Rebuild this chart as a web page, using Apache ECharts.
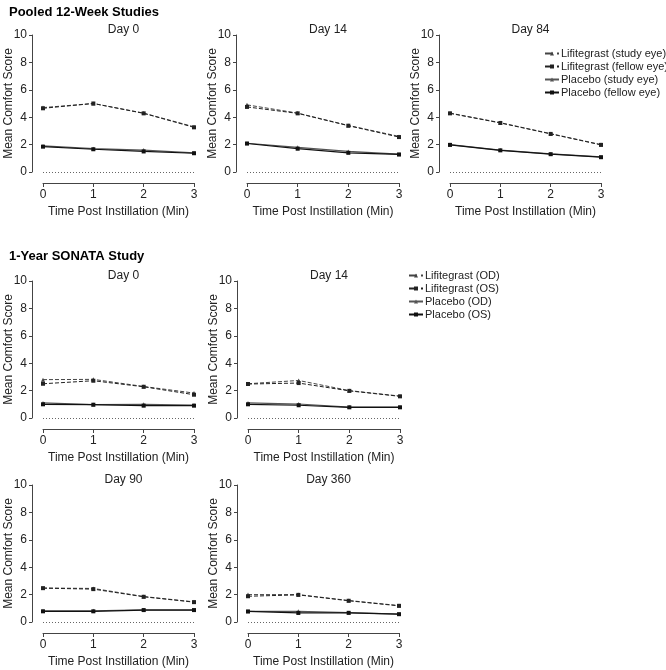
<!DOCTYPE html>
<html>
<head>
<meta charset="utf-8">
<script src="https://cdn.jsdelivr.net/npm/echarts@6/dist/echarts.min.js"></script>
<style>html,body{margin:0;padding:0;background:#fff;}#c{width:666px;height:670px;}</style>
</head>
<body>
<div id="c"></div>
<script>
// ---- Data ----
const timePoints = [0, 1, 2, 3];
const yMin = 0, yMax = 10, yStep = 2;

const pooledNames = ['Lifitegrast (study eye)', 'Lifitegrast (fellow eye)', 'Placebo (study eye)', 'Placebo (fellow eye)'];
const sonataNames = ['Lifitegrast (OD)', 'Lifitegrast (OS)', 'Placebo (OD)', 'Placebo (OS)'];

// Pooled 12-Week Studies
const pooledDay0_lifStudy   = [4.7, 5.0, 4.3, 3.3];
const pooledDay0_lifFellow  = [4.65, 5.0, 4.28, 3.26];
const pooledDay0_pboStudy   = [1.9, 1.7, 1.6, 1.4];
const pooledDay0_pboFellow  = [1.85, 1.66, 1.5, 1.37];

const pooledDay14_lifStudy  = [4.9, 4.3, 3.4, 2.6];
const pooledDay14_lifFellow = [4.75, 4.28, 3.38, 2.55];
const pooledDay14_pboStudy  = [2.1, 1.8, 1.5, 1.3];
const pooledDay14_pboFellow = [2.08, 1.7, 1.4, 1.28];

const pooledDay84_lifStudy  = [4.3, 3.6, 2.8, 2.0];
const pooledDay84_lifFellow = [4.28, 3.58, 2.78, 1.98];
const pooledDay84_pboStudy  = [2.0, 1.6, 1.32, 1.1];
const pooledDay84_pboFellow = [1.98, 1.58, 1.3, 1.08];

// 1-Year SONATA Study
const sonataDay0_lifOD  = [2.8, 2.82, 2.3, 1.82];
const sonataDay0_lifOS  = [2.5, 2.72, 2.28, 1.7];
const sonataDay0_pboOD  = [1.1, 0.98, 1.0, 0.95];
const sonataDay0_pboOS  = [1.0, 0.97, 0.9, 0.9];

const sonataDay14_lifOD = [2.5, 2.74, 2.0, 1.6];
const sonataDay14_lifOS = [2.48, 2.55, 1.98, 1.58];
const sonataDay14_pboOD = [1.1, 1.02, 0.8, 0.8];
const sonataDay14_pboOS = [1.0, 0.93, 0.78, 0.78];

const sonataDay90_lifOD = [2.48, 2.45, 1.86, 1.47];
const sonataDay90_lifOS = [2.47, 2.4, 1.84, 1.45];
const sonataDay90_pboOD = [0.82, 0.82, 0.88, 0.88];
const sonataDay90_pboOS = [0.78, 0.78, 0.87, 0.87];

const sonataDay360_lifOD = [2.0, 2.0, 1.57, 1.2];
const sonataDay360_lifOS = [1.88, 1.98, 1.55, 1.18];
const sonataDay360_pboOD = [0.78, 0.78, 0.68, 0.58];
const sonataDay360_pboOS = [0.77, 0.66, 0.67, 0.57];

const panels = [
  {title: 'Day 0',   names: pooledNames, data: [pooledDay0_lifStudy, pooledDay0_lifFellow, pooledDay0_pboStudy, pooledDay0_pboFellow]},
  {title: 'Day 14',  names: pooledNames, data: [pooledDay14_lifStudy, pooledDay14_lifFellow, pooledDay14_pboStudy, pooledDay14_pboFellow]},
  {title: 'Day 84',  names: pooledNames, data: [pooledDay84_lifStudy, pooledDay84_lifFellow, pooledDay84_pboStudy, pooledDay84_pboFellow]},
  {title: 'Day 0',   names: sonataNames, data: [sonataDay0_lifOD, sonataDay0_lifOS, sonataDay0_pboOD, sonataDay0_pboOS]},
  {title: 'Day 14',  names: sonataNames, data: [sonataDay14_lifOD, sonataDay14_lifOS, sonataDay14_pboOD, sonataDay14_pboOS]},
  {title: 'Day 90',  names: sonataNames, data: [sonataDay90_lifOD, sonataDay90_lifOS, sonataDay90_pboOD, sonataDay90_pboOS]},
  {title: 'Day 360', names: sonataNames, data: [sonataDay360_lifOD, sonataDay360_lifOS, sonataDay360_pboOD, sonataDay360_pboOS]}
];

// ---- Layout ----
const gridPos = [
  {left: 43,  top: 35,  width: 151, height: 137},
  {left: 247, top: 35,  width: 152, height: 137},
  {left: 450, top: 35,  width: 151, height: 137},
  {left: 43,  top: 281, width: 151, height: 137},
  {left: 248, top: 281, width: 152, height: 137},
  {left: 43,  top: 485, width: 151, height: 137},
  {left: 248, top: 485, width: 151, height: 137}
];

const FONT = 'Liberation Sans, Arial, sans-serif';
const AX = '#444';
const styles = [
  {type: 'dashed', color: '#444', symbol: 'triangle', width: 1},
  {type: 'dashed', color: '#222', symbol: 'rect', width: 1},
  {type: 'solid',  color: '#555', symbol: 'triangle', width: 1.2},
  {type: 'solid',  color: '#111', symbol: 'rect', width: 1.2}
];

const grid = [], xAxis = [], yAxis = [], series = [], title = [];

title.push({text: 'Pooled 12-Week Studies', left: 4, top: 1,
  textStyle: {fontFamily: FONT, fontSize: 13, fontWeight: 'bold', color: '#000'}});
title.push({text: '1-Year SONATA Study', left: 4, top: 245,
  textStyle: {fontFamily: FONT, fontSize: 13, fontWeight: 'bold', color: '#000'}});

panels.forEach((p, i) => {
  const g = gridPos[i];
  grid.push({left: g.left, top: g.top, width: g.width, height: g.height, containLabel: false});
  title.push({text: p.title, left: g.left + g.width / 2, top: g.top - 16, textAlign: 'center',
    textStyle: {fontFamily: FONT, fontSize: 12, fontWeight: 'normal', color: '#222'}});
  xAxis.push({
    gridIndex: i, type: 'value', min: 0, max: 3, interval: 1, offset: 11,
    name: 'Time Post Instillation (Min)', nameLocation: 'middle', nameGap: 23, nameMoveOverlap: false,
    nameTextStyle: {fontFamily: FONT, fontSize: 12, color: '#222'},
    axisLine: {onZero: false, lineStyle: {color: AX, width: 1}},
    axisTick: {inside: false, length: 4, lineStyle: {color: AX}},
    axisLabel: {fontFamily: FONT, fontSize: 12, color: '#222', margin: 6},
    splitLine: {show: false}
  });
  yAxis.push({
    gridIndex: i, type: 'value', min: yMin, max: yMax, interval: yStep, offset: 11,
    name: 'Mean Comfort Score', nameLocation: 'middle', nameGap: 17, nameRotate: 90, nameMoveOverlap: false,
    nameTextStyle: {fontFamily: FONT, fontSize: 12, color: '#222'},
    axisLine: {show: true, onZero: false, lineStyle: {color: AX, width: 1}},
    axisTick: {show: true, length: 3, lineStyle: {color: AX}},
    axisLabel: {fontFamily: FONT, fontSize: 12, color: '#222', margin: 5},
    splitLine: {show: false}
  });
  p.data.forEach((vals, k) => {
    const st = styles[k];
    const s = {
      name: p.names[k], type: 'line', xAxisIndex: i, yAxisIndex: i,
      data: timePoints.map((t, j) => [t, vals[j]]),
      symbol: st.symbol, symbolSize: 4, showSymbol: true,
      lineStyle: {type: st.type, color: st.color, width: st.width},
      itemStyle: {color: st.color},
      animation: false, silent: true, z: 3
    };
    if (k === 0) {
      s.markLine = {silent: true, symbol: 'none', label: {show: false},
        lineStyle: {type: [1, 2], color: '#666', width: 1},
        data: [{yAxis: 0}]};
    }
    series.push(s);
  });
});

const legendCommon = {
  orient: 'vertical', itemWidth: 14, itemHeight: 5, itemGap: 2,
  textStyle: {fontFamily: FONT, fontSize: 11, color: '#222', padding: [0, 0, 0, -3]},
  selectedMode: false
};

const option = {
  backgroundColor: '#fff',
  animation: false,
  title: title,
  grid: grid, xAxis: xAxis, yAxis: yAxis, series: series,
  legend: [
    Object.assign({}, legendCommon, {left: 539, top: 43, data: pooledNames}),
    Object.assign({}, legendCommon, {left: 403, top: 265, data: sonataNames})
  ]
};

const chart = echarts.init(document.getElementById('c'), null, {renderer: 'canvas'});
chart.setOption(option);
</script>
</body>
</html>
